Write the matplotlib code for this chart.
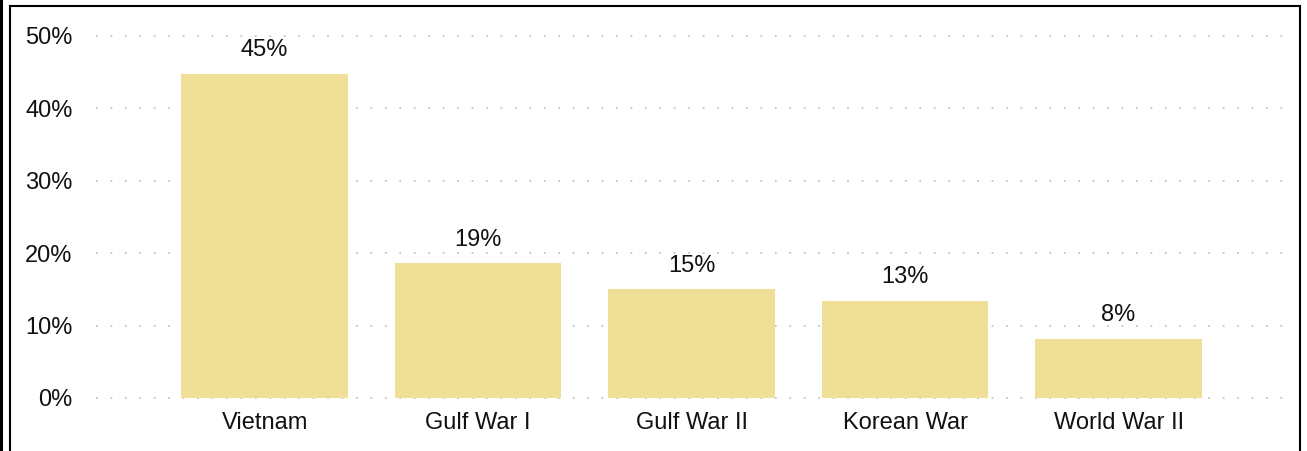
import matplotlib.pyplot as plt
from matplotlib.lines import Line2D
import numpy as np

plt.rcParams['font.family'] = ['Liberation Sans', 'DejaVu Sans']

wars = ["Vietnam", "Gulf War I", "Gulf War II", "Korean War", "World War II"]
share = [44.8, 18.6, 15.0, 13.4, 8.2]
yticks = [0, 10, 20, 30, 40, 50]

fig = plt.figure(figsize=(13.07, 4.51), dpi=100)
ax = fig.add_axes([96 / 1307, 53 / 451, 1187 / 1307, 362 / 451])

x = np.arange(len(wars))
bars = ax.bar(x, share, width=0.78, color="#EFDF97", zorder=2)

for xi, v in zip(x, share):
    ax.annotate(f"{v:.0f}%", (xi, v), xytext=(0, 9), textcoords="offset points",
                ha="center", va="bottom", fontsize=17, color="#111111")

ax.set_xlim(-0.79, 4.77)
ax.set_ylim(0, 50)
ax.set_yticks(yticks)
ax.set_yticklabels([f"{t}%" for t in yticks])
ax.set_xticks(x)
ax.set_xticklabels(wars)
ax.tick_params(axis="both", length=0, labelsize=17, colors="#111111")
ax.tick_params(axis="y", pad=17)
ax.tick_params(axis="x", pad=10)

ax.yaxis.grid(True, color="#c4c4c4", linewidth=1.3, linestyle=(0, (1, 7)), zorder=1)
for line in ax.get_ygridlines():
    line.set_clip_on(False)
for s in ax.spines.values():
    s.set_visible(False)

# frame around the chart
W, H = 1307, 451
def fline(x0, y0, x1, y1, lw):
    fig.add_artist(Line2D([x0 / W, x1 / W], [1 - y0 / H, 1 - y1 / H],
                          color="black", linewidth=lw, transform=fig.transFigure))

fline(1, 0, 1, H, 2.2)
fline(10, 6, 1300, 6, 1.5)
fline(10, 6, 10, H, 1.5)
fline(1300, 6, 1300, H, 1.5)

fig.savefig("out.png", dpi=100)
